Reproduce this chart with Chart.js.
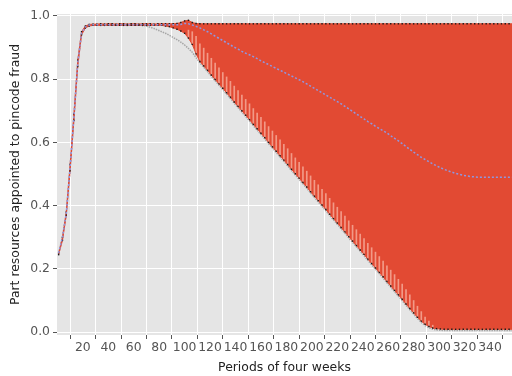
<!DOCTYPE html>
<html>
<head>
<meta charset="utf-8">
<script src="https://cdn.jsdelivr.net/npm/chart.js@4.4.1/dist/chart.umd.min.js"></script>
<style>
  html, body { margin: 0; padding: 0; background: #fff; }
  #wrap { width: 512px; height: 376px; }
</style>
</head>
<body>
<div id="wrap"><canvas id="grafico" width="512" height="376"></canvas></div>
<script>
// periodos de quatro semanas (eixo x)
const periodos = Array.from({ length: 120 }, (_, i) => 1 + 3 * i);
const xTicks = [0, 20, 40, 60, 80, 100, 120, 140, 160, 180, 200, 220, 240, 260, 280, 300, 320, 340];
const yTicks = [0, 0.2, 0.4, 0.6, 0.8, 1.0];

// limite superior da faixa vermelha
const limiteSuperior = [
  0.25, 0.30, 0.38, 0.53, 0.69, 0.86, 0.95, 0.968, 0.973, 0.974,
  0.974, 0.975, 0.974, 0.975, 0.975, 0.974, 0.975, 0.975, 0.974, 0.975,
  0.975, 0.974, 0.975, 0.975, 0.975, 0.974, 0.975, 0.975, 0.975, 0.975,
  0.975, 0.976, 0.979, 0.984, 0.986, 0.979, 0.976, 0.975, 0.975, 0.975,
  0.975, 0.975, 0.975, 0.975, 0.975, 0.975, 0.975, 0.975, 0.975, 0.975,
  0.975, 0.975, 0.975, 0.975, 0.975, 0.975, 0.975, 0.975, 0.975, 0.975,
  0.975, 0.975, 0.975, 0.975, 0.975, 0.975, 0.975, 0.975, 0.975, 0.975,
  0.975, 0.975, 0.975, 0.975, 0.975, 0.975, 0.975, 0.975, 0.975, 0.975,
  0.975, 0.975, 0.975, 0.975, 0.975, 0.975, 0.975, 0.975, 0.975, 0.975,
  0.975, 0.975, 0.975, 0.975, 0.975, 0.975, 0.975, 0.975, 0.975, 0.975,
  0.975, 0.975, 0.975, 0.975, 0.975, 0.975, 0.975, 0.975, 0.975, 0.975,
  0.975, 0.975, 0.975, 0.975, 0.975, 0.975, 0.975, 0.975, 0.975, 0.975
];

// limite inferior (pontos pretos de baixo)
const limiteInferior = [
  0.245, 0.29, 0.37, 0.51, 0.67, 0.84, 0.94, 0.962, 0.968, 0.970,
  0.970, 0.970, 0.970, 0.970, 0.970, 0.970, 0.970, 0.970, 0.970, 0.970,
  0.970, 0.970, 0.970, 0.970, 0.970, 0.970, 0.970, 0.970, 0.968, 0.966,
  0.962, 0.958, 0.952, 0.945, 0.930, 0.910, 0.880, 0.856, 0.842, 0.828,
  0.813, 0.799, 0.785, 0.771, 0.757, 0.743, 0.728, 0.714, 0.700, 0.686,
  0.672, 0.657, 0.643, 0.629, 0.615, 0.600, 0.586, 0.572, 0.558, 0.544,
  0.530, 0.515, 0.501, 0.487, 0.473, 0.459, 0.444, 0.430, 0.416, 0.402,
  0.388, 0.373, 0.359, 0.345, 0.331, 0.317, 0.302, 0.288, 0.274, 0.260,
  0.246, 0.231, 0.217, 0.203, 0.189, 0.175, 0.160, 0.146, 0.132, 0.118,
  0.104, 0.089, 0.075, 0.061, 0.047, 0.035, 0.025, 0.018, 0.013, 0.011,
  0.010, 0.009, 0.009, 0.009, 0.009, 0.009, 0.009, 0.009, 0.009, 0.009,
  0.009, 0.009, 0.009, 0.009, 0.009, 0.009, 0.009, 0.009, 0.009, 0.009
];

// media (linha azul tracejada)
const media = [
  0.25, 0.30, 0.375, 0.52, 0.68, 0.85, 0.945, 0.965, 0.971, 0.972,
  0.972, 0.972, 0.972, 0.972, 0.972, 0.972, 0.972, 0.972, 0.972, 0.972,
  0.972, 0.972, 0.972, 0.972, 0.972, 0.972, 0.972, 0.972, 0.972, 0.972,
  0.972, 0.972, 0.973, 0.976, 0.975, 0.971, 0.967, 0.962, 0.956, 0.950,
  0.943, 0.936, 0.929, 0.922, 0.915, 0.908, 0.901, 0.895, 0.888, 0.882,
  0.877, 0.871, 0.865, 0.858, 0.852, 0.846, 0.840, 0.834, 0.828, 0.822,
  0.816, 0.810, 0.804, 0.798, 0.792, 0.785, 0.778, 0.771, 0.764, 0.757,
  0.750, 0.743, 0.736, 0.729, 0.722, 0.714, 0.706, 0.698, 0.690, 0.682,
  0.674, 0.666, 0.659, 0.651, 0.644, 0.637, 0.630, 0.621, 0.613, 0.605,
  0.596, 0.587, 0.578, 0.569, 0.561, 0.553, 0.546, 0.539, 0.532, 0.526,
  0.520, 0.515, 0.510, 0.506, 0.502, 0.499, 0.496, 0.494, 0.492, 0.491,
  0.490, 0.490, 0.490, 0.490, 0.490, 0.490, 0.490, 0.490, 0.490, 0.490
];

// linha cinza de referencia
const referencia = [
  0.25, 0.30, 0.375, 0.52, 0.68, 0.85, 0.945, 0.965, 0.970, 0.971,
  0.971, 0.971, 0.971, 0.971, 0.971, 0.971, 0.971, 0.971, 0.971, 0.971,
  0.971, 0.971, 0.970, 0.968, 0.964, 0.960, 0.955, 0.950, 0.945, 0.939,
  0.932, 0.925, 0.917, 0.908, 0.897, 0.885, 0.868, 0.852, 0.838, 0.824,
  0.809, 0.795, 0.781, 0.767, 0.753, 0.739, 0.724, 0.710, 0.696, 0.682,
  0.668, 0.653, 0.639, 0.625, 0.611, 0.596, 0.582, 0.568, 0.554, 0.540,
  0.526, 0.511, 0.497, 0.483, 0.469, 0.455, 0.440, 0.426, 0.412, 0.398,
  0.384, 0.369, 0.355, 0.341, 0.327, 0.313, 0.298, 0.284, 0.270, 0.256,
  0.242, 0.227, 0.213, 0.199, 0.185, 0.171, 0.156, 0.142, 0.128, 0.114,
  0.100, 0.085, 0.071, 0.057, 0.043, 0.031, 0.021, 0.014, 0.009, 0.007,
  0.006, 0.005, 0.005, 0.005, 0.005, 0.005, 0.005, 0.005, 0.005, 0.005,
  0.005, 0.005, 0.005, 0.005, 0.005, 0.005, 0.005, 0.005, 0.005, 0.005
];

// topo das barras de erro claras (a partir do indice 34)
const primeiraListra = 34;
const topoListras = [
  0.955, 0.950, 0.935, 0.912, 0.898, 0.882,
  0.866, 0.851, 0.836, 0.821, 0.807, 0.793, 0.778, 0.764, 0.750, 0.736,
  0.722, 0.707, 0.693, 0.679, 0.665, 0.650, 0.636, 0.622, 0.608, 0.594,
  0.580, 0.565, 0.551, 0.537, 0.523, 0.509, 0.494, 0.480, 0.466, 0.452,
  0.438, 0.423, 0.409, 0.395, 0.381, 0.367, 0.352, 0.338, 0.324, 0.310,
  0.296, 0.281, 0.267, 0.253, 0.239, 0.225, 0.210, 0.196, 0.182, 0.167,
  0.152, 0.135, 0.118, 0.100, 0.082, 0.065, 0.048, 0.035, 0.022
];

const vermelho = '#E24A33';
const fonte = { family: 'DejaVu Sans', size: 12.4 };

function pontos(valores) {
  return periodos.map((x, i) => ({ x, y: valores[i] }));
}

const listras = topoListras.map((topo, k) => {
  const i = primeiraListra + k;
  return { x: periodos[i], y: [limiteInferior[i], topo] };
});

// fundo cinza da area do grafico (estilo ggplot)
const fundoPlot = {
  id: 'fundoPlot',
  beforeDraw(chart) {
    const { ctx, chartArea: a } = chart;
    ctx.save();
    ctx.fillStyle = '#E5E5E5';
    ctx.fillRect(a.left, a.top, a.right - a.left, a.bottom - a.top);
    ctx.restore();
  }
};

const ctx = document.getElementById('grafico').getContext('2d');
new Chart(ctx, {
  type: 'line',
  data: {
    datasets: [
      {
        data: pontos(limiteSuperior),
        borderColor: vermelho,
        borderWidth: 1,
        backgroundColor: vermelho,
        fill: 1,
        pointRadius: 1,
        pointStyle: 'rect',
        pointBackgroundColor: '#1a1a1a',
        pointBorderWidth: 0,
        order: 5
      },
      {
        data: pontos(limiteInferior),
        borderColor: vermelho,
        borderWidth: 1,
        fill: false,
        pointRadius: 1,
        pointStyle: 'rect',
        pointBackgroundColor: '#1a1a1a',
        pointBorderWidth: 0,
        order: 3
      },
      {
        type: 'bar',
        data: listras,
        backgroundColor: 'rgba(245, 168, 150, 0.85)',
        borderWidth: 0,
        barThickness: 1,
        grouped: false,
        order: 4
      },
      {
        data: pontos(media),
        borderColor: '#8f97e0',
        borderWidth: 1.5,
        borderDash: [2, 2],
        fill: false,
        pointRadius: 0,
        order: 2
      },
      {
        data: pontos(referencia),
        borderColor: 'rgba(140, 140, 140, 0.7)',
        borderWidth: 1.5,
        borderDash: [1.5, 1],
        fill: false,
        pointRadius: 0,
        order: 6
      }
    ]
  },
  options: {
    responsive: false,
    animation: false,
    layout: { autoPadding: false, padding: { top: 14, right: 0, bottom: 0, left: 0 } },
    plugins: { legend: { display: false }, tooltip: { enabled: false } },
    scales: {
      x: {
        type: 'linear',
        min: -0.3,
        max: 357.3,
        offset: false,
        afterBuildTicks: ax => { ax.ticks = xTicks.map(v => ({ value: v })); },
        afterFit: ax => { ax.height = 41; ax.paddingRight = 0; ax.paddingLeft = 0; },
        border: { display: false },
        grid: { color: '#fff', lineWidth: 1, tickColor: '#555', tickLength: 4 },
        ticks: {
          color: '#555', font: fonte, padding: 1, maxRotation: 0, autoSkip: false,
          callback: v => (v === 0 ? '' : v)
        },
        title: { display: true, text: 'Periods of four weeks', color: '#222', font: fonte, padding: { top: 0, bottom: 1 } }
      },
      y: {
        min: -0.009,
        max: 1.006,
        afterBuildTicks: ax => { ax.ticks = yTicks.map(v => ({ value: v })); },
        afterFit: ax => { ax.width = 57; },
        border: { display: false },
        grid: { color: '#fff', lineWidth: 1, tickColor: '#555', tickLength: 4 },
        ticks: { color: '#555', font: fonte, padding: 3, callback: v => v.toFixed(1) },
        title: { display: true, text: 'Part resources appointed to pincode fraud', color: '#222', font: fonte, padding: { top: 8, bottom: 0 } }
      }
    }
  },
  plugins: [fundoPlot]
});
</script>
</body>
</html>
